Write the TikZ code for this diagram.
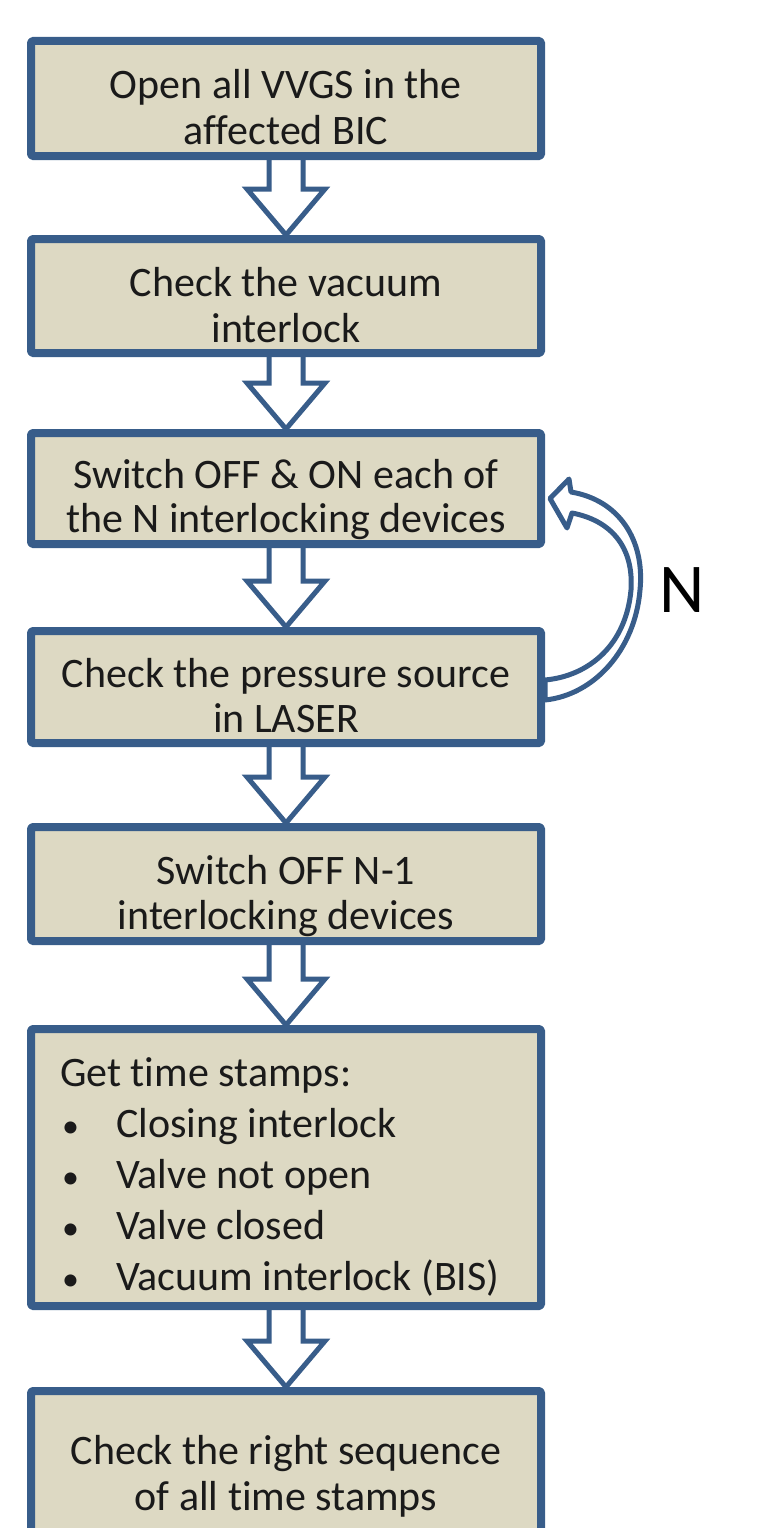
\documentclass[tikz,border=0pt]{standalone}
\usepackage{fontspec}
\setmainfont{Carlito}[Ligatures={NoCommon}]
\usetikzlibrary{calc,backgrounds}
\definecolor{bordblue}{HTML}{385D8A}
\definecolor{boxfill}{HTML}{DDD9C3}
\definecolor{txtcol}{HTML}{1A1A1A}
\tikzset{
  stepbox/.style={draw=bordblue, line width=8pt, fill=boxfill, minimum width=510pt,
    inner sep=0pt, line join=round, rounded corners=1.5pt},
  blockarr/.style={draw=bordblue, line width=5pt, fill=white, line join=miter},
  looparr/.style={draw=bordblue, line width=5pt, fill=white, line join=round},
  boxtext/.style={text=txtcol, font=\fontsize{42}{46}\selectfont, inner sep=0pt},
  bullettext/.style={text=txtcol, font=\fontsize{34}{40}\selectfont, inner sep=0pt},
  biglabel/.style={text=black, font=\fontsize{70}{70}\selectfont, inner sep=0pt}
}
\newcommand{\blockarrow}[2]{%
  \draw[blockarr] ($(#1.south)+(-17,0)$) -- ($(#2.north)+(-17,-46)$) -- ($(#2.north)+(-39,-46)$)
    -- (#2.north) -- ($(#2.north)+(39,-46)$) -- ($(#2.north)+(17,-46)$) -- ($(#1.south)+(17,0)$);}
\begin{document}
\begin{tikzpicture}[x=1pt,y=-1pt]
\useasboundingbox (0,0) rectangle (764,1528);
\begin{scope}
\clip (0,0) rectangle (764,1528);
% boxes
\node[stepbox, minimum height=115pt] (b1) at (286,98.5) {};
\node[stepbox, minimum height=114pt] (b2) at (286,296) {};
\node[stepbox, minimum height=111pt] (b3) at (286,488.5) {};
\node[stepbox, minimum height=112pt] (b4) at (286,687) {};
\node[stepbox, minimum height=114pt] (b5) at (286,884) {};
\node[stepbox, minimum height=277pt] (b6) at (286,1167.5) {};
\node[stepbox, minimum height=186pt] (b7) at (286,1484) {};
\end{scope}
% texts
\node[boxtext, anchor=base] (t1a) at (286,98) {Open all VVGS in the};
\node[boxtext, anchor=base] (t1b) at (286,144) {affected BIC};
\node[boxtext, anchor=base] (t2a) at (286,296) {Check the vacuum};
\node[boxtext, anchor=base] (t2b) at (286,342) {interlock};
\node[boxtext, anchor=base] (t3a) at (286,488) {Switch OFF \& ON each of};
\node[boxtext, anchor=base] (t3b) at (286,532) {the N interlocking devices};
\node[boxtext, anchor=base] (t4a) at (286,687) {Check the pressure source};
\node[boxtext, anchor=base] (t4b) at (286,732) {in LASER};
\node[boxtext, anchor=base] (t5a) at (286,884) {Switch OFF N-1};
\node[boxtext, anchor=base] (t5b) at (286,929) {interlocking devices};
\node[boxtext, anchor=base west] (t6a) at (60,1086) {Get time stamps:};
\node[bullettext, anchor=base west] (bu1) at (62,1137) {•};
\node[boxtext, anchor=base west] (t6b) at (116,1137) {Closing interlock};
\node[bullettext, anchor=base west] (bu2) at (62,1188) {•};
\node[boxtext, anchor=base west] (t6c) at (116,1188) {Valve not open};
\node[bullettext, anchor=base west] (bu3) at (62,1239) {•};
\node[boxtext, anchor=base west] (t6d) at (116,1239) {Valve closed};
\node[bullettext, anchor=base west] (bu4) at (62,1290) {•};
\node[boxtext, anchor=base west] (t6e) at (116,1290) {Vacuum interlock (BIS)};
\node[boxtext, anchor=base] (t7a) at (286,1464) {Check the right sequence};
\node[boxtext, anchor=base] (t7b) at (286,1510) {of all time stamps};
\node[biglabel] (nl) at (682,590.5) {N};
% arrows
\begin{pgfonlayer}{background}
\blockarrow{b1}{b2}
\blockarrow{b2}{b3}
\blockarrow{b3}{b4}
\blockarrow{b4}{b5}
\blockarrow{b5}{b6}
\blockarrow{b6}{b7}
\draw[looparr] ($(b3.east)+(26,3.5)$)
  .. controls ($(b3.east)+(74,11.5)$) and ($(b3.east)+(100,51.5)$) .. ($(b3.east)+(95,101.5)$)
  .. controls ($(b3.east)+(90,161.5)$) and ($(b4.east)+(49,8)$) .. ($(b4.east)+(0,13)$)
  -- ($(b4.east)+(0,-7)$)
  .. controls ($(b4.east)+(44,-11)$) and ($(b3.east)+(81,156.5)$) .. ($(b3.east)+(86,101.5)$)
  .. controls ($(b3.east)+(89,56.5)$) and ($(b3.east)+(64,31.5)$) .. ($(b3.east)+(27,24.5)$)
  -- ($(b3.east)+(22,39.5)$) -- ($(b3.east)+(5,10)$) -- ($(b3.east)+(24,-9.5)$) -- cycle;
\end{pgfonlayer}
\end{tikzpicture}
\end{document}
